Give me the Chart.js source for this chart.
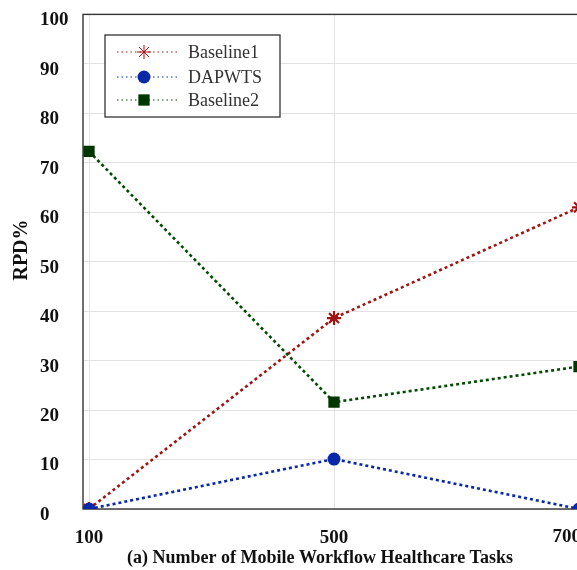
<!DOCTYPE html>
<html>
<head>
<meta charset="utf-8">
<script src="https://cdn.jsdelivr.net/npm/chart.js@4/dist/chart.umd.min.js"></script>
<style>
  html, body { margin: 0; padding: 0; background: #fff; }
  #wrap { width: 577px; height: 570px; overflow: hidden; }
</style>
</head>
<body>
<div id="wrap"><canvas id="rpdChart" width="580" height="570"></canvas></div>
<script>
// values
const categories = ['100', '500', '700'];
const baseline1 = [0, 38.6, 61];
const dapwts = [0, 10.1, 0];
const baseline2 = [72.3, 21.6, 28.8];

const serif = "'Liberation Serif', 'Times New Roman', serif";
const last = categories.length - 1;
const tickFont = { family: serif, size: 19, weight: 'bold' };

function points(values) {
  return categories.map((c, i) => ({ x: i, y: values[i] }));
}

// plot box, legend, axis titles and the cropped last tick label
const extras = {
  id: 'extras',
  beforeDatasetsDraw(chart) {
    const a = chart.chartArea;
    const ctx = chart.ctx;
    ctx.save();
    ctx.strokeStyle = '#333';
    ctx.lineWidth = 1.4;
    ctx.strokeRect(a.left, a.top, a.right - a.left, a.bottom - a.top);
    ctx.restore();
  },
  afterDraw(chart) {
    const ctx = chart.ctx;
    ctx.save();

    // legend
    const bx = 105, by = 35, bw = 175, bh = 82;
    ctx.fillStyle = '#fff';
    ctx.fillRect(bx, by, bw, bh);
    ctx.strokeStyle = '#333';
    ctx.lineWidth = 1.3;
    ctx.strokeRect(bx, by, bw, bh);
    const rows = [52, 77, 100];
    chart.data.datasets.forEach((ds, i) => {
      const y = rows[i];
      ctx.save();
      ctx.strokeStyle = ds.borderColor;
      ctx.lineWidth = 1;
      ctx.setLineDash([1.5, 3]);
      ctx.beginPath();
      ctx.moveTo(117, y);
      ctx.lineTo(178, y);
      ctx.stroke();
      ctx.setLineDash([]);
      ctx.fillStyle = ds.pointBackgroundColor;
      ctx.strokeStyle = ds.pointBorderColor;
      Chart.helpers.drawPoint(ctx, {
        pointStyle: ds.pointStyle,
        radius: ds.pointRadius,
        rotation: 0,
        borderWidth: ds.pointBorderWidth
      }, 144, y);
      ctx.restore();
      ctx.fillStyle = '#333';
      ctx.font = '18px ' + serif;
      ctx.textAlign = 'left';
      ctx.textBaseline = 'middle';
      ctx.fillText(ds.label, 188, y + 1);
    });

    // last x label, right-aligned against the edge
    ctx.fillStyle = '#111';
    ctx.font = 'bold 19px ' + serif;
    ctx.textAlign = 'right';
    ctx.textBaseline = 'middle';
    ctx.fillText(categories[last], chart.scales.x.getPixelForValue(last) + 2, 537);

    // axis titles
    ctx.font = 'bold 18px ' + serif;
    ctx.textAlign = 'center';
    ctx.fillText('(a) Number of Mobile Workflow Healthcare Tasks', 320, 558);
    ctx.translate(22, 250);
    ctx.rotate(-Math.PI / 2);
    ctx.font = 'bold 20px ' + serif;
    ctx.fillText('RPD%', 0, 0);
    ctx.restore();
  }
};

const ctx = document.getElementById('rpdChart').getContext('2d');
const rpdChart = new Chart(ctx, {
  type: 'line',
  data: {
    datasets: [
      {
        label: 'Baseline1',
        data: points(baseline1),
        borderColor: 'rgb(160, 20, 20)',
        borderWidth: 2.6,
        borderDash: [3, 3],
        pointStyle: 'star',
        pointRadius: 7,
        pointBorderWidth: 2.2,
        pointBorderColor: 'rgb(160, 20, 20)',
        pointBackgroundColor: 'rgb(160, 20, 20)',
        order: 2
      },
      {
        label: 'DAPWTS',
        data: points(dapwts),
        borderColor: 'rgb(10, 40, 170)',
        borderWidth: 2.6,
        borderDash: [3, 3],
        pointStyle: 'circle',
        pointRadius: 6.5,
        pointBorderWidth: 0,
        pointBorderColor: 'rgb(10, 40, 170)',
        pointBackgroundColor: 'rgb(10, 40, 170)',
        order: 0
      },
      {
        label: 'Baseline2',
        data: points(baseline2),
        borderColor: 'rgb(0, 75, 0)',
        borderWidth: 2.6,
        borderDash: [3, 3],
        pointStyle: 'rect',
        pointRadius: 8,
        pointBorderWidth: 0,
        pointBorderColor: 'rgb(0, 55, 0)',
        pointBackgroundColor: 'rgb(0, 55, 0)',
        order: 1
      }
    ]
  },
  options: {
    responsive: false,
    animation: false,
    layout: { autoPadding: false, padding: { left: 40, right: 0, top: 14, bottom: 0 } },
    plugins: { legend: { display: false }, tooltip: { enabled: false } },
    elements: { line: { tension: 0, fill: false } },
    scales: {
      x: {
        type: 'linear',
        min: -0.0245,
        max: 2.004,
        afterBuildTicks: s => { s.ticks = categories.map((c, i) => ({ value: i })); },
        afterFit: s => { s.paddingRight = 0; s.paddingLeft = 0; s.height = 61; },
        grid: { color: '#e2e2e2', lineWidth: 1, drawTicks: false },
        border: { display: false },
        ticks: {
          padding: 18,
          color: '#111',
          font: tickFont,
          callback: v => (v === last ? '' : categories[v] ?? '')
        }
      },
      y: {
        min: 0,
        max: 100,
        afterFit: s => { s.width = 43; },
        grid: { color: '#e2e2e2', lineWidth: 1, drawTicks: false },
        border: { display: false },
        ticks: {
          stepSize: 10,
          crossAlign: 'far',
          labelOffset: 6,
          color: '#111',
          font: tickFont
        }
      }
    }
  },
  plugins: [extras]
});
</script>
</body>
</html>
